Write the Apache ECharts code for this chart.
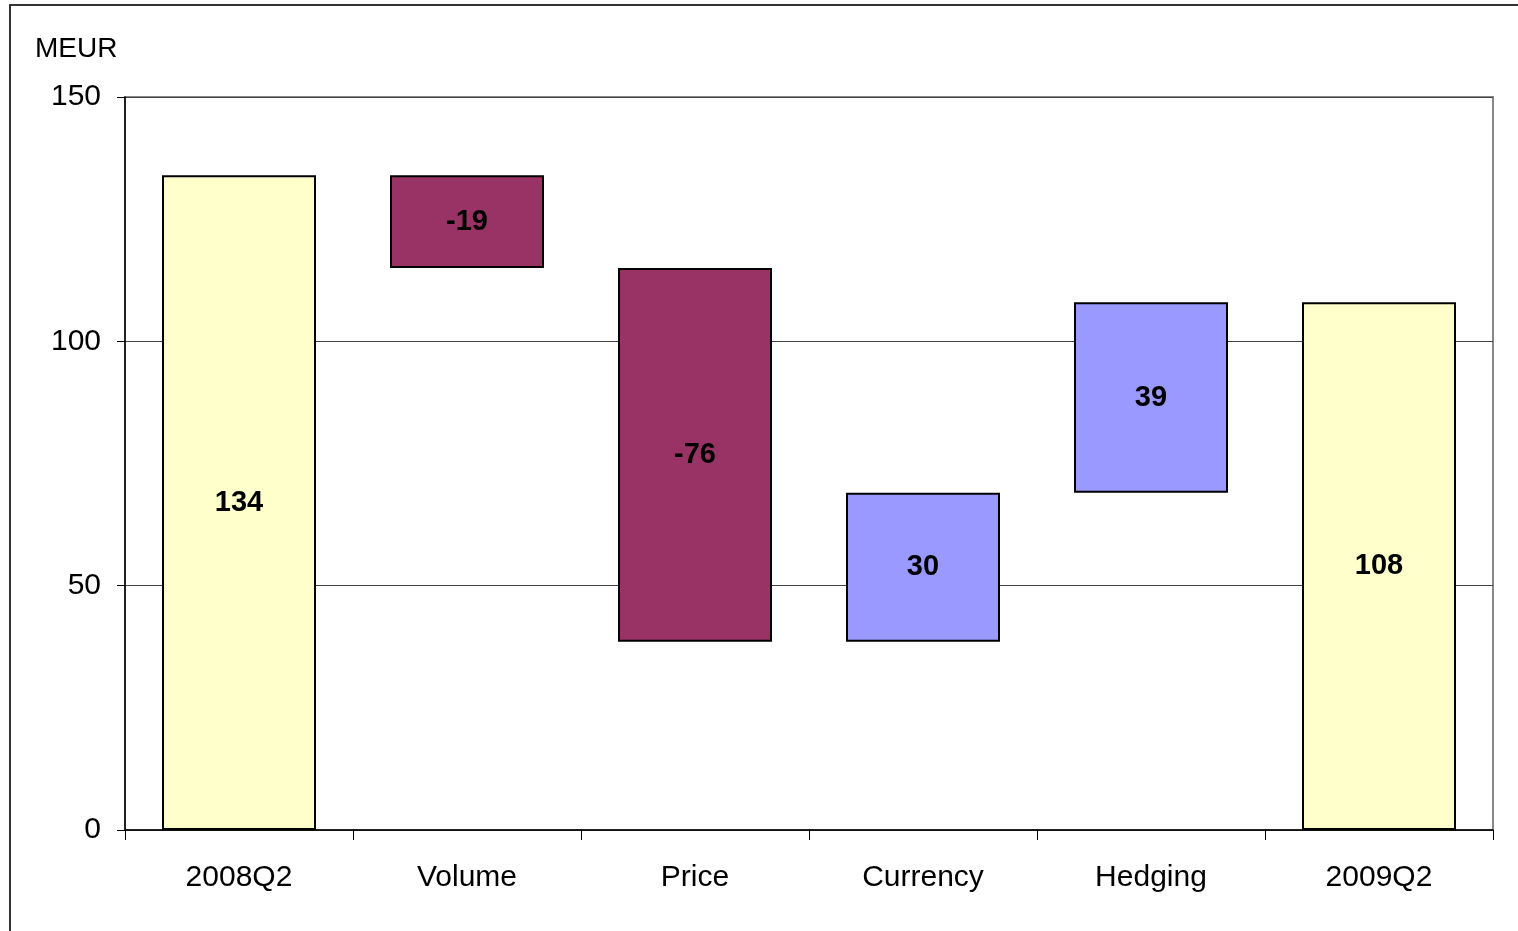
<!DOCTYPE html>
<html>
<head>
<meta charset="utf-8">
<script src="https://cdn.jsdelivr.net/npm/echarts@6/dist/echarts.min.js"></script>
<style>
  html, body { margin: 0; padding: 0; background: #fff; }
  #chart { width: 1518px; height: 931px; }
</style>
</head>
<body>
<div id="chart"></div>
<script>
const categories = ['2008Q2', 'Volume', 'Price', 'Currency', 'Hedging', '2009Q2'];
const barBottoms = [0, 115, 38.5, 38.5, 69, 0];
const barHeights = [134, 19, 76.5, 30.5, 39, 108];
const barLabels = ['134', '-19', '-76', '30', '39', '108'];
const barColors = ['#FFFFCC', '#993366', '#993366', '#9999FF', '#9999FF', '#FFFFCC'];
const yTicks = [0, 50, 100, 150];
const unitLabel = 'MEUR';

const chart = echarts.init(document.getElementById('chart'));
const font = 'Liberation Sans, Arial, sans-serif';
chart.setOption({
  animation: false,
  backgroundColor: '#fff',
  graphic: [
    { type: 'rect', shape: { x: 10, y: 5, width: 1600, height: 1000 },
      style: { fill: 'none', stroke: '#333', lineWidth: 2 }, z: 0 },
    { type: 'text', left: 35, top: 35,
      style: { text: unitLabel, font: '28px ' + font, fill: '#000' } }
  ],
  grid: { left: 125, right: 25, top: 97, bottom: 101, show: true,
          borderColor: '#888', borderWidth: 2, backgroundColor: 'transparent' },
  xAxis: {
    type: 'category', data: categories, boundaryGap: true,
    axisLine: { lineStyle: { color: '#000', width: 1.5 } },
    axisTick: { show: true, length: 10, lineStyle: { color: '#000' } },
    axisLabel: { color: '#000', fontSize: 30, fontFamily: font, margin: 33, lineHeight: 30 },
    splitLine: { show: false }
  },
  yAxis: {
    type: 'value', min: yTicks[0], max: yTicks[yTicks.length - 1], interval: 50,
    axisLine: { show: true, lineStyle: { color: '#000', width: 1.5 } },
    axisTick: { show: true, length: 8, lineStyle: { color: '#000' } },
    axisLabel: { color: '#000', fontSize: 30, fontFamily: font, margin: 24, padding: [4, 0, 0, 0] },
    splitLine: { show: true, lineStyle: { color: '#444', width: 1 } }
  },
  series: [
    {
      type: 'bar', stack: 'wf', barWidth: 154, silent: true,
      itemStyle: { color: 'transparent', borderWidth: 0 },
      data: barBottoms
    },
    {
      type: 'bar', stack: 'wf', barWidth: 154,
      data: barHeights.map((v, i) => ({
        value: v,
        itemStyle: { color: barColors[i], borderColor: '#000', borderWidth: 2 }
      })),
      label: {
        show: true, position: 'inside', color: '#000', fontWeight: 'bold',
        fontSize: 29, fontFamily: font,
        formatter: p => barLabels[p.dataIndex]
      }
    }
  ]
});
</script>
</body>
</html>
